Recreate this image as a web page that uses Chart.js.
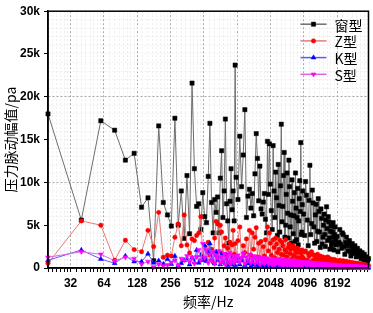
<!DOCTYPE html>
<html lang="zh-CN">
<head>
  <meta charset="UTF-8">
  <title>压力脉动幅值 - 频率</title>
  <script src="https://cdn.jsdelivr.net/npm/chart.js"></script>
  <style>
    html, body { margin: 0; padding: 0; background: #fff; }
  </style>
</head>
<body>
  <canvas id="grafico" width="373" height="313"></canvas>

  <script>
    // frequências (Hz)
    const freqs = [
      20, 40, 60, 80, 100, 120, 140, 160, 180, 200, 220, 240, 260, 280, 300, 320, 340, 360, 380, 400, 420, 440, 460, 480, 500,
      520, 540, 560, 580, 600, 620, 640, 660, 680, 700, 720, 740, 760, 780, 800, 820, 840, 860, 880, 900, 920, 940, 960, 980, 1000,
      1040, 1080, 1120, 1160, 1200, 1240, 1280, 1320, 1360, 1400, 1440, 1480, 1520, 1560, 1600, 1640, 1680, 1720, 1760, 1800, 1840, 1880, 1920, 1960, 2000,
      2040, 2080, 2120, 2160, 2200, 2240, 2280, 2320, 2360, 2400, 2440, 2480, 2520, 2560, 2600, 2640, 2680, 2720, 2760, 2800, 2840, 2880, 2920, 2960, 3000,
      3040, 3080, 3120, 3160, 3200, 3240, 3280, 3320, 3360, 3400, 3440, 3480, 3520, 3560, 3600, 3640, 3680, 3720, 3760, 3800, 3840, 3880, 3920, 3960, 4000,
      4080, 4160, 4240, 4320, 4400, 4480, 4560, 4640, 4720, 4800, 4880, 4960, 5040, 5120, 5200, 5280, 5360, 5440, 5520, 5600, 5680, 5760, 5840, 5920, 6000,
      6080, 6160, 6240, 6320, 6400, 6480, 6560, 6640, 6720, 6800, 6880, 6960, 7040, 7120, 7200, 7280, 7360, 7440, 7520, 7600, 7680, 7760, 7840, 7920, 8000,
      8160, 8320, 8480, 8640, 8800, 8960, 9120, 9280, 9440, 9600, 9760, 9920, 10080, 10240, 10400, 10560, 10720, 10880, 11040, 11200, 11360, 11520, 11680, 11840,
      12000, 12160, 12320, 12480, 12640, 12800, 12960, 13120, 13280, 13440, 13600, 13760, 13920, 14080, 14240, 14400, 14560, 14720, 14880, 15040, 15200, 15360, 15520, 15680
    ];

    // amplitudes (Pa)
    const chuangXing = [
      18000, 5600, 17200, 16100, 12600, 13400, 7100, 8200, 850, 16600, 7650, 6200, 4900, 17500, 5000, 9000, 3450, 10800, 4000, 21600, 11600, 7200, 7500, 4500, 8800,
      6000, 5300, 10700, 16900, 7650, 4100, 8000, 6500, 8300, 4100, 10500, 13700, 5900, 9000, 17400, 7500, 5500, 2900, 7800, 11600, 6800, 9000, 5500, 23700, 10600,
      8000, 15400, 9500, 13200, 18500, 5900, 8400, 9200, 7000, 8700, 6100, 11000, 15700, 12800, 7850, 11900, 6900, 6300, 7700, 8700, 5700, 4100, 14800, 8600, 14500,
      9800, 6700, 4500, 14300, 9000, 5900, 11200, 8200, 3800, 12100, 7300, 4200, 9600, 16800, 5400, 7200, 10800, 13500, 3600, 5000, 8600, 11100, 6400, 3500, 12600,
      9500, 4800, 6200, 2900, 10300, 7800, 4000, 6100, 8800, 3100, 11100, 7000, 3300, 5900, 9300, 2700, 5500, 8100, 10200, 6600, 14650, 3900, 4200, 7400, 9000,
      6300, 3800, 10100, 8500, 5600, 2600, 7900, 12000, 3900, 5200, 9100, 7600, 4800, 2900, 6200, 7450, 3100, 4300, 8100, 6600, 4200, 2400, 6900, 5800, 2800,
      3600, 5000, 6300, 3900, 2500, 5600, 7150, 4600, 3200, 6000, 5400, 3500, 2200, 4300, 4900, 2600, 3000, 4200, 5300, 3600, 2100, 3900, 4800, 3200, 2700,
      3700, 1900, 3000, 4500, 2800, 2300, 4100, 3900, 2500, 1600, 3000, 3600, 2600, 2000, 2900, 3200, 1900, 1400, 2500, 2850, 2100, 1700, 2300, 2600,
      1800, 1300, 2000, 2300, 1700, 1500, 1900, 2000, 1400, 1100, 1600, 1800, 1300, 1000, 1400, 1600, 1100, 900, 1200, 1300, 1000, 800, 1000, 1100
    ];
    const zXing = [
      550, 5500, 5000, 900, 3250, 2150, 1900, 4400, 2500, 6500, 1250, 1500, 1400, 3600, 5150, 2600, 6200, 2700, 1750, 3400, 3200, 3800, 4100, 6000, 1300,
      2500, 900, 3000, 1500, 2200, 700, 3500, 5450, 5150, 1800, 5000, 4200, 1200, 2600, 3500, 900, 2300, 1500, 3000, 800, 2700, 4400, 1600, 2850, 1100,
      3200, 4800, 1000, 2600, 1800, 3400, 900, 4400, 1500, 4100, 2200, 3600, 4700, 1300, 2900, 1100, 3100, 800, 2500, 1400, 3300, 1000, 4800, 2000, 4100,
      2900, 1500, 700, 3300, 2400, 1200, 3500, 2800, 1800, 900, 2200, 3250, 1000, 1600, 3000, 2600, 1500, 800, 2100, 3300, 1900, 1300, 600, 2400, 2800,
      700, 1700, 2200, 2500, 1100, 600, 2600, 1500, 800, 2300, 2000, 500, 1200, 1800, 2300, 1200, 700, 2000, 1900, 500, 1000, 1700, 2100, 1300, 600,
      1100, 1900, 2000, 800, 900, 1700, 1400, 500, 700, 1900, 1600, 900, 600, 1500, 1300, 600, 1000, 1600, 400, 700, 1200, 1400, 900, 500, 1100,
      1300, 500, 700, 1000, 1200, 800, 400, 600, 1300, 1100, 600, 350, 1100, 900, 400, 700, 1000, 300, 500, 800, 1000, 600, 400, 300, 900,
      700, 400, 250, 900, 600, 300, 450, 850, 700, 400, 250, 800, 600, 300, 400, 700, 550, 350, 200, 650, 500, 250, 350, 600,
      450, 300, 200, 550, 400, 200, 300, 500, 400, 250, 150, 450, 350, 200, 300, 400, 100, 150, 300, 350, 250, 150, 100, 300
    ];
    const kXing = [
      900, 2100, 1050, 550, 1400, 750, 750, 1650, 600, 850, 450, 1050, 450, 1400, 250, 550, 900, 1100, 400, 1200, 700, 2100, 600, 1500, 900,
      2650, 800, 1800, 2850, 1000, 1500, 500, 1900, 900, 1300, 400, 1700, 700, 1200, 500, 1500, 300, 1000, 600, 1300, 400, 900, 1100, 300, 800,
      1200, 400, 900, 1400, 300, 800, 500, 1000, 200, 700, 400, 900, 300, 600, 200, 700, 300, 500, 150, 600, 250, 450, 150, 500, 200,
      250, 400, 500, 150, 200, 350, 300, 100, 450, 300, 100, 200, 250, 350, 400, 100, 150, 250, 200, 300, 350, 100, 150, 250, 300,
      150, 100, 300, 250, 100, 300, 200, 100, 250, 200, 100, 300, 200, 100, 150, 200, 250, 150, 80, 250, 200, 80, 120, 200, 180,
      250, 150, 120, 80, 100, 200, 180, 100, 60, 150, 130, 60, 90, 180, 150, 90, 70, 140, 120, 60, 90, 150, 140, 80, 60,
      120, 100, 50, 80, 130, 120, 70, 50, 110, 90, 50, 70, 120, 100, 60, 40, 100, 80, 40, 60, 110, 90, 50, 40, 90,
      40, 60, 70, 90, 30, 40, 60, 80, 80, 50, 40, 70, 60, 30, 50, 80, 30, 40, 50, 60, 40, 30, 60, 70,
      20, 40, 40, 50, 30, 20, 50, 60, 20, 30, 40, 50, 30, 20, 20, 40, 40, 30, 20, 50, 30, 20, 20, 40
    ];
    const sXing = [
      1250, 1900, 1600, 850, 1250, 1100, 450, 750, 100, 450, 250, 350, 650, 900, 300, 1100, 900, 1400, 700, 1200, 500, 1300, 2100, 900, 2850,
      1200, 2100, 600, 1600, 900, 1900, 500, 1400, 1100, 2000, 600, 1300, 800, 1700, 400, 1200, 1500, 700, 1800, 500, 1100, 1400, 600, 1300, 900,
      1500, 700, 1200, 1700, 500, 1300, 900, 1600, 600, 1100, 1400, 500, 1200, 800, 1300, 400, 1100, 700, 1200, 500, 1000, 800, 1150, 450, 1000,
      900, 600, 350, 1100, 800, 400, 500, 900, 1000, 700, 450, 1000, 700, 350, 1000, 850, 300, 600, 700, 950, 550, 300, 400, 800, 850,
      500, 300, 900, 650, 350, 400, 750, 900, 550, 250, 800, 600, 300, 800, 700, 300, 450, 550, 750, 450, 300, 200, 650, 700, 400,
      450, 700, 550, 300, 250, 650, 700, 450, 350, 600, 500, 250, 350, 600, 200, 400, 600, 550, 350, 200, 250, 500, 550, 350, 250,
      500, 450, 200, 250, 450, 500, 300, 200, 450, 400, 150, 250, 400, 150, 300, 350, 400, 250, 150, 200, 350, 400, 250, 150, 350,
      300, 150, 200, 350, 100, 200, 250, 300, 200, 120, 100, 300, 250, 200, 150, 280, 200, 100, 150, 250, 200, 150, 100, 250,
      180, 100, 120, 220, 70, 150, 160, 200, 120, 80, 60, 180, 150, 120, 90, 170, 130, 60, 80, 150, 120, 100, 50, 140
    ];

    const nomesSeries = ['窗型', 'Z型', 'K型', 'S型'];
    const xMajor = [32, 64, 128, 256, 512, 1024, 2048, 4096, 8192];

    // ticks menores do eixo x (8 divisões por oitava)
    const xTicks = [];
    for (let b = 16; b < 16384; b *= 2) {
      for (let k = 0; k < 8; k++) {
        const v = b * (1 + k / 8);
        if (v >= 20 && v <= 15700) xTicks.push(v);
      }
    }

    const pontos = vals => freqs.map((f, i) => ({ x: f, y: vals[i] }));

    function serie(nome, vals, linha, cor, estilo, raio, rot, ordem) {
      return {
        label: nome,
        data: pontos(vals),
        borderColor: linha,
        borderWidth: 1,
        pointBackgroundColor: cor,
        pointBorderColor: cor,
        pointBorderWidth: 0.5,
        pointStyle: estilo,
        pointRadius: raio,
        pointRotation: rot,
        tension: 0,
        order: ordem,
        clip: false
      };
    }

    const legenda = {
      id: 'legenda',
      afterDatasetsDraw(chart) {
        const { ctx, chartArea } = chart;
        ctx.save();
        chart.data.datasets.forEach((ds, i) => {
          const y = chartArea.top + 13 + i * 16.7;
          const x0 = chartArea.right - 68;
          ctx.strokeStyle = ds.borderColor;
          ctx.lineWidth = 1.5;
          ctx.beginPath();
          ctx.moveTo(x0, y);
          ctx.lineTo(x0 + 26, y);
          ctx.stroke();
          ctx.fillStyle = ds.pointBackgroundColor;
          ctx.strokeStyle = ds.pointBorderColor;
          ctx.lineWidth = 0.5;
          Chart.helpers.drawPoint(ctx, { pointStyle: ds.pointStyle, rotation: ds.pointRotation, radius: ds.pointRadius, borderWidth: 0.5 }, x0 + 13, y);
          ctx.fillStyle = '#000';
          ctx.font = '14px "Noto Sans CJK SC"';
          ctx.textBaseline = 'middle';
          ctx.fillText(ds.label, x0 + 34, y + 1);
        });
        ctx.restore();
      }
    };

    const moldura = {
      id: 'moldura',
      afterDraw(chart) {
        const { ctx, chartArea: a } = chart;
        ctx.save();
        ctx.strokeStyle = '#000';
        ctx.lineWidth = 1.5;
        ctx.strokeRect(a.left, a.top, a.right - a.left, a.bottom - a.top);
        ctx.restore();
      }
    };

    new Chart(document.getElementById('grafico'), {
      type: 'line',
      data: {
        datasets: [
          serie(nomesSeries[0], chuangXing, '#6e6e6e', '#000000', 'rect', 3, 0, 4),
          serie(nomesSeries[1], zXing, '#e87a7a', '#ff0000', 'circle', 2.2, 0, 3),
          serie(nomesSeries[2], kXing, '#5a5aff', '#0000ff', 'triangle', 2.8, 0, 2),
          serie(nomesSeries[3], sXing, '#e066e0', '#ff00ff', 'triangle', 2.8, 180, 1)
        ]
      },
      options: {
        responsive: false,
        animation: false,
        layout: { padding: { top: 8, right: 3, left: 0, bottom: 0 } },
        plugins: {
          legend: { display: false },
          tooltip: { enabled: false }
        },
        scales: {
          x: {
            type: 'logarithmic',
            min: 20,
            max: 15700,
            afterBuildTicks: s => { s.ticks = xTicks.map(v => ({ value: v })); },
            afterFit: s => { s.height = 45; },
            ticks: {
              autoSkip: false,
              maxRotation: 0,
              padding: 4,
              color: '#000',
              font: { family: 'Liberation Sans', size: 12, weight: 'bold' },
              callback: v => xMajor.includes(v) ? String(v) : ''
            },
            grid: {
              color: c => xMajor.includes(c.tick.value) ? '#a8a8a8' : '#eeeeee',
              tickColor: '#000',
              tickLength: 4
            },
            border: { color: '#000', width: 1.5, dash: [2, 2] },
            title: {
              display: true,
              text: '频率/Hz',
              color: '#000',
              font: { family: 'Noto Sans CJK SC', size: 14 },
              padding: { top: 0, bottom: 3 }
            }
          },
          y: {
            min: 0,
            max: 30000,
            afterBuildTicks: s => {
              const t = [];
              for (let v = 0; v <= 30000; v += 1000) t.push({ value: v });
              s.ticks = t;
            },
            afterFit: s => { s.width = 48; },
            ticks: {
              autoSkip: false,
              padding: 4,
              color: '#000',
              font: { family: 'Liberation Sans', size: 12, weight: 'bold' },
              callback: v => v % 5000 === 0 ? (v === 0 ? '0' : (v / 1000) + 'k') : ''
            },
            grid: {
              color: c => c.tick.value % 10000 === 0 ? '#a8a8a8' : '#eeeeee',
              tickColor: c => c.tick.value % 5000 === 0 ? '#000' : 'rgba(0,0,0,0)',
              tickLength: 4
            },
            border: { color: '#000', width: 1.5, dash: [2, 2] },
            title: {
              display: true,
              text: '压力脉动幅值/pa',
              color: '#000',
              font: { family: 'Noto Sans CJK SC', size: 14 },
              padding: { top: 2, bottom: 2 }
            }
          }
        }
      },
      plugins: [legenda, moldura]
    });
  </script>
</body>
</html>
